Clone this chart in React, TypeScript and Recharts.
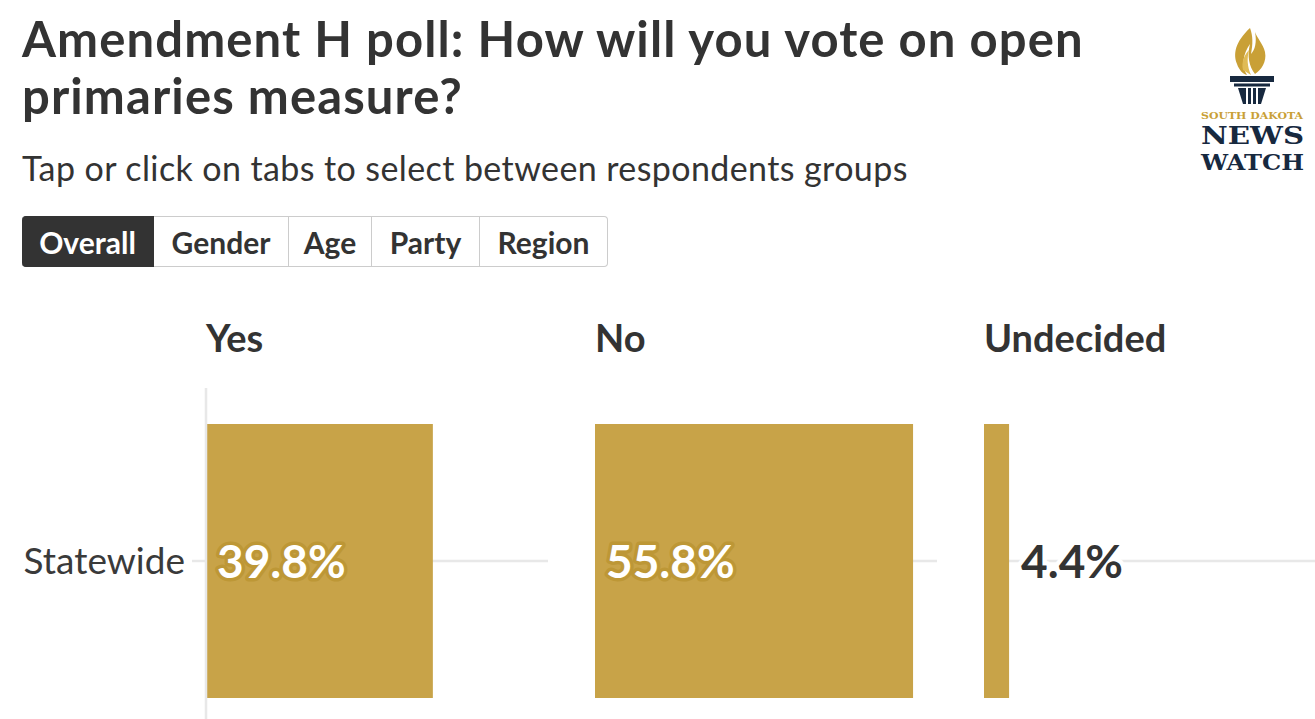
import React from "react";
import { BarChart, Bar, XAxis, YAxis, LabelList } from "recharts";

const groups = ["Statewide"];
const answers = ["Yes", "No", "Undecided"];
const yesValues = [39.8];
const noValues = [55.8];
const undecidedValues = [4.4];
const tabs = ["Overall", "Gender", "Age", "Party", "Region"];
const valueDomain = [0, 60];

const FONT = "Lato, 'Noto Sans', sans-serif";
const BAR = "#c8a348";
const HALO = "#bd9736";
const TEXT = "#333333";
const GRID = "#e8e8e8";

const seriesList = [yesValues, noValues, undecidedValues];

const renderLabel = (props: any) => {
  const { x, y, width, height, value } = props;
  const cy = y + height / 2;
  const txt = `${Number(value).toFixed(1)}%`;
  const inside = width > 80;
  return (
    <text
      x={inside ? x + 11 : x + width + 12}
      y={cy}
      dy="0.36em"
      fill={inside ? "#ffffff" : TEXT}
      stroke={inside ? HALO : "#ffffff"}
      strokeWidth={inside ? 7 : 9}
      strokeLinejoin="round"
      style={{ paintOrder: "stroke", fontFamily: FONT, fontWeight: 700, fontSize: 46 }}
    >
      {txt}
    </text>
  );
};

const renderGridLine = (props: any) => {
  const { x, y, width, height } = props;
  const cy = y + height / 2;
  return <line x1={x} x2={x + width} y1={cy} y2={cy} stroke={GRID} strokeWidth={2.5} />;
};

const Panel = ({ idx, left, showAxis }: { idx: number; left: number; showAxis: boolean }) => {
  const data = groups.map((g, i) => ({ group: g, value: seriesList[idx][i] }));
  const axisW = showAxis ? 206 : 0;
  return (
    <div style={{ position: "absolute", left, top: 388 }}>
      <BarChart
        width={342 + axisW}
        height={346}
        data={data}
        layout="vertical"
        margin={{ top: 0, right: 0, bottom: 0, left: 0 }}
      >
        <XAxis type="number" domain={valueDomain} hide />
        <YAxis
          type="category"
          dataKey="group"
          width={axisW}
          hide={!showAxis}
          axisLine={{ stroke: GRID, strokeWidth: 2.5 }}
          tickLine={{ stroke: GRID, strokeWidth: 2.5 }}
          tickSize={14}
          tickMargin={7}
          tick={{ fill: "#3a3a3a", fontSize: 37, fontFamily: FONT }}
        />
        <Bar dataKey="value" fill={BAR} barSize={274} isAnimationActive={false} background={renderGridLine}>
          <LabelList dataKey="value" content={renderLabel} />
        </Bar>
      </BarChart>
    </div>
  );
};

const Logo = () => (
  <svg width={115} height={152} style={{ position: "absolute", left: 1195, top: 24 }} viewBox="0 0 115 152">
    <path d="M55 4 C40 18 38 30 42 40 C44 46 48 50 52 51 C46 42 48 30 55 20 C52 32 54 42 60 50 C66 46 72 38 70 28 C68 20 62 14 60 8 C62 18 60 26 56 30 C58 20 58 12 55 4 Z" fill="#c9a036" />
    <path d="M48 46 C46 38 50 30 54 26 C52 34 52 42 56 51 Z" fill="#e0bb55" />
    <rect x={35} y={52} width={44} height={6} fill="#17293f" />
    <rect x={39} y={59.5} width={36} height={3} fill="#17293f" />
    <path d="M43 64 L71 64 L66 80 L48 80 Z" fill="#17293f" />
    <rect x={51} y={64} width={2} height={16} fill="#ffffff" />
    <rect x={56} y={64} width={2} height={16} fill="#ffffff" />
    <rect x={61} y={64} width={2} height={16} fill="#ffffff" />
    <text x={6} y={95} textLength={102} lengthAdjust="spacingAndGlyphs" fill="#c9a036" style={{ fontFamily: "'DejaVu Serif', serif", fontWeight: 700, fontSize: 10 }}>
      SOUTH DAKOTA
    </text>
    <text x={6} y={120} textLength={103} lengthAdjust="spacingAndGlyphs" fill="#17293f" style={{ fontFamily: "'DejaVu Serif', serif", fontWeight: 700, fontSize: 24 }}>
      NEWS
    </text>
    <text x={6} y={146} textLength={103} lengthAdjust="spacingAndGlyphs" fill="#17293f" style={{ fontFamily: "'DejaVu Serif', serif", fontWeight: 700, fontSize: 23 }}>
      WATCH
    </text>
  </svg>
);

const tabWidths = [132, 135, 83, 108, 128];

export default function App() {
  let acc = 22;
  const tabPos = tabWidths.map((w) => {
    const l = acc;
    acc += w;
    return l;
  });
  return (
    <div
      style={{
        position: "fixed",
        left: 0,
        top: 0,
        width: 1315,
        height: 719,
        overflow: "hidden",
        background: "#ffffff",
        fontFamily: FONT,
        color: TEXT,
      }}
    >
      <div style={{ position: "absolute", left: 22, top: 10, fontSize: 49, fontWeight: 700, lineHeight: "57px", letterSpacing: 1.1, width: 1150 }}>
        Amendment H poll: How will you vote on open primaries measure?
      </div>
      <div style={{ position: "absolute", left: 22, top: 147, fontSize: 34, fontWeight: 400, lineHeight: "42px", letterSpacing: 0.4 }}>
        Tap or click on tabs to select between respondents groups
      </div>
      <Logo />
      {tabs.map((t, i) => (
        <div
          key={t}
          style={{
            position: "absolute",
            left: tabPos[i],
            top: 216,
            width: tabWidths[i],
            height: 51,
            boxSizing: "border-box",
            border: i === 0 ? "1px solid #333" : "1px solid #cccccc",
            borderLeft: i === 0 || i === 1 ? undefined : "none",
            borderRadius: i === 0 ? "4px 0 0 4px" : i === tabs.length - 1 ? "0 4px 4px 0" : 0,
            background: i === 0 ? "#333333" : "#ffffff",
            color: i === 0 ? "#ffffff" : TEXT,
            fontSize: 30,
            fontWeight: 700,
            display: "flex",
            alignItems: "center",
            justifyContent: "center",
          }}
        >
          {t}
        </div>
      ))}
      {answers.map((a, i) => (
        <div
          key={a}
          style={{ position: "absolute", left: [206, 595, 984][i], top: 314, fontSize: 38, fontWeight: 700, lineHeight: "46px" }}
        >
          {a}
        </div>
      ))}
      <Panel idx={0} left={0} showAxis />
      <Panel idx={1} left={595} showAxis={false} />
      <Panel idx={2} left={984} showAxis={false} />
    </div>
  );
}
